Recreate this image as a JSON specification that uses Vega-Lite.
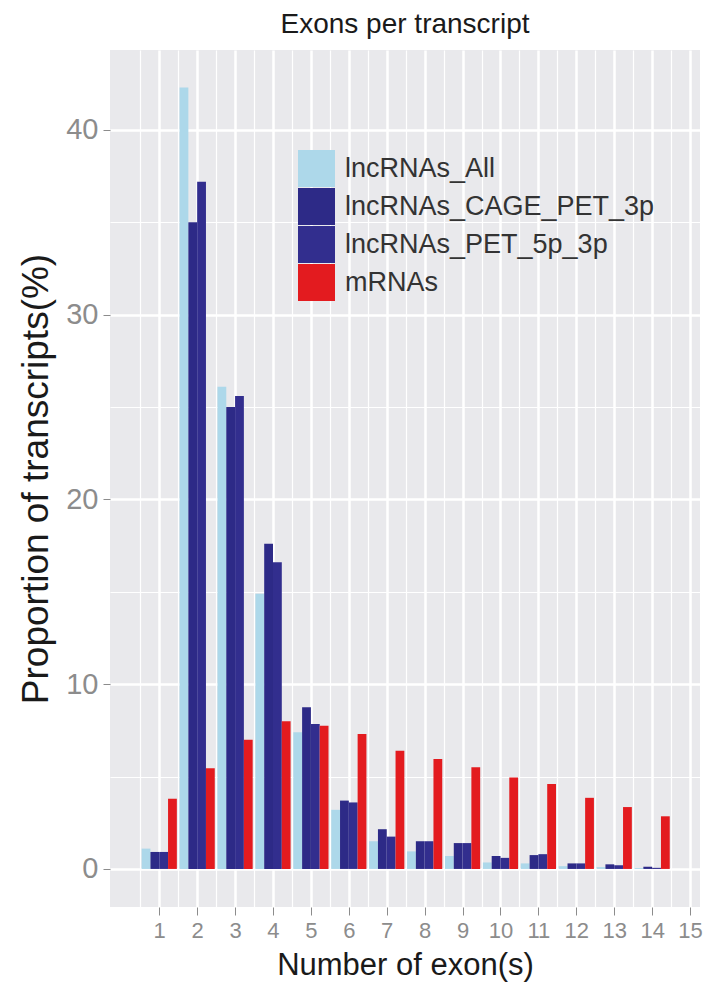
{
  "$schema": "https://vega.github.io/schema/vega-lite/v6.json",
  "width": 590,
  "height": 857,
  "autosize": "none",
  "padding": {"left": 110, "top": 50, "right": 18, "bottom": 82},
  "background": "white",
  "config": {
    "font": "Liberation Sans",
    "view": {"fill": "#e9e9ec", "stroke": null},
    "axis": {"domain": false, "gridColor": "white", "labelFont": "Liberation Sans", "titleFont": "Liberation Sans", "titleFontWeight": "normal"}
  },
  "title": {"text": "Exons per transcript", "fontSize": 28, "fontWeight": "normal", "color": "#1a1a1a", "anchor": "middle", "offset": 11},
  "data": {"values": [
    {"exons": 1, "series": "lncRNAs_All", "pct": 1.1},
    {"exons": 1, "series": "lncRNAs_CAGE_PET_3p", "pct": 0.92},
    {"exons": 1, "series": "lncRNAs_PET_5p_3p", "pct": 0.92},
    {"exons": 1, "series": "mRNAs", "pct": 3.8},
    {"exons": 2, "series": "lncRNAs_All", "pct": 42.3},
    {"exons": 2, "series": "lncRNAs_CAGE_PET_3p", "pct": 35.0},
    {"exons": 2, "series": "lncRNAs_PET_5p_3p", "pct": 37.2},
    {"exons": 2, "series": "mRNAs", "pct": 5.45},
    {"exons": 3, "series": "lncRNAs_All", "pct": 26.1},
    {"exons": 3, "series": "lncRNAs_CAGE_PET_3p", "pct": 25.0},
    {"exons": 3, "series": "lncRNAs_PET_5p_3p", "pct": 25.6},
    {"exons": 3, "series": "mRNAs", "pct": 7.0},
    {"exons": 4, "series": "lncRNAs_All", "pct": 14.9},
    {"exons": 4, "series": "lncRNAs_CAGE_PET_3p", "pct": 17.6},
    {"exons": 4, "series": "lncRNAs_PET_5p_3p", "pct": 16.6},
    {"exons": 4, "series": "mRNAs", "pct": 8.0},
    {"exons": 5, "series": "lncRNAs_All", "pct": 7.4},
    {"exons": 5, "series": "lncRNAs_CAGE_PET_3p", "pct": 8.75},
    {"exons": 5, "series": "lncRNAs_PET_5p_3p", "pct": 7.85},
    {"exons": 5, "series": "mRNAs", "pct": 7.75},
    {"exons": 6, "series": "lncRNAs_All", "pct": 3.2},
    {"exons": 6, "series": "lncRNAs_CAGE_PET_3p", "pct": 3.7},
    {"exons": 6, "series": "lncRNAs_PET_5p_3p", "pct": 3.6},
    {"exons": 6, "series": "mRNAs", "pct": 7.3},
    {"exons": 7, "series": "lncRNAs_All", "pct": 1.5},
    {"exons": 7, "series": "lncRNAs_CAGE_PET_3p", "pct": 2.15},
    {"exons": 7, "series": "lncRNAs_PET_5p_3p", "pct": 1.75},
    {"exons": 7, "series": "mRNAs", "pct": 6.4},
    {"exons": 8, "series": "lncRNAs_All", "pct": 0.95},
    {"exons": 8, "series": "lncRNAs_CAGE_PET_3p", "pct": 1.5},
    {"exons": 8, "series": "lncRNAs_PET_5p_3p", "pct": 1.5},
    {"exons": 8, "series": "mRNAs", "pct": 5.95},
    {"exons": 9, "series": "lncRNAs_All", "pct": 0.7},
    {"exons": 9, "series": "lncRNAs_CAGE_PET_3p", "pct": 1.4},
    {"exons": 9, "series": "lncRNAs_PET_5p_3p", "pct": 1.4},
    {"exons": 9, "series": "mRNAs", "pct": 5.5},
    {"exons": 10, "series": "lncRNAs_All", "pct": 0.35},
    {"exons": 10, "series": "lncRNAs_CAGE_PET_3p", "pct": 0.7},
    {"exons": 10, "series": "lncRNAs_PET_5p_3p", "pct": 0.6},
    {"exons": 10, "series": "mRNAs", "pct": 4.95},
    {"exons": 11, "series": "lncRNAs_All", "pct": 0.3},
    {"exons": 11, "series": "lncRNAs_CAGE_PET_3p", "pct": 0.75},
    {"exons": 11, "series": "lncRNAs_PET_5p_3p", "pct": 0.8},
    {"exons": 11, "series": "mRNAs", "pct": 4.6},
    {"exons": 12, "series": "lncRNAs_All", "pct": 0.15},
    {"exons": 12, "series": "lncRNAs_CAGE_PET_3p", "pct": 0.3},
    {"exons": 12, "series": "lncRNAs_PET_5p_3p", "pct": 0.3},
    {"exons": 12, "series": "mRNAs", "pct": 3.85},
    {"exons": 13, "series": "lncRNAs_All", "pct": 0.1},
    {"exons": 13, "series": "lncRNAs_CAGE_PET_3p", "pct": 0.25},
    {"exons": 13, "series": "lncRNAs_PET_5p_3p", "pct": 0.2},
    {"exons": 13, "series": "mRNAs", "pct": 3.35},
    {"exons": 14, "series": "lncRNAs_All", "pct": 0.05},
    {"exons": 14, "series": "lncRNAs_CAGE_PET_3p", "pct": 0.12},
    {"exons": 14, "series": "lncRNAs_PET_5p_3p", "pct": 0.06},
    {"exons": 14, "series": "mRNAs", "pct": 2.85}
  ]},
  "layer": [
    {
      "transform": [{"filter": "datum.series === 'lncRNAs_All'"}],
      "mark": {"type": "bar", "width": 8.8, "xOffset": -13.2},
      "encoding": {
        "x": {"field": "exons", "type": "quantitative", "scale": {"domain": [-0.167, 15.13], "nice": false, "zero": false},
              "axis": {"values": [0.5,1.5,2.5,3.5,4.5,5.5,6.5,7.5,8.5,9.5,10.5,11.5,12.5,13.5,14.5], "orient": "bottom", "labels": false, "ticks": false, "title": null, "grid": true, "gridWidth": 1.2}},
        "y": {"field": "pct", "type": "quantitative", "scale": {"domain": [-2.06, 44.33], "nice": false, "zero": false},
              "axis": {"values": [5, 15, 25, 35], "orient": "left", "labels": false, "ticks": false, "title": null, "grid": true, "gridWidth": 1.2}},
        "color": {"field": "series", "type": "nominal",
          "scale": {"domain": ["lncRNAs_All", "lncRNAs_CAGE_PET_3p", "lncRNAs_PET_5p_3p", "mRNAs"], "range": ["#add8ea", "#2d2a87", "#322e8e", "#e31b1f"]},
          "legend": {"title": null, "orient": "none", "legendX": 188, "legendY": 100, "padding": 0, "symbolType": "square", "symbolSize": 1369, "symbolStrokeWidth": 0, "symbolOpacity": 1, "rowPadding": 1, "labelFontSize": 27, "labelColor": "#333333", "labelOffset": 10, "labelLimit": 0, "labelFont": "Liberation Sans"}}
      }
    },
    {
      "transform": [{"filter": "datum.series === 'lncRNAs_CAGE_PET_3p'"}],
      "mark": {"type": "bar", "width": 8.8, "xOffset": -4.4},
      "encoding": {
        "x": {"field": "exons", "type": "quantitative", "scale": {"domain": [-0.167, 15.13], "nice": false, "zero": false},
              "axis": {"values": [1,2,3,4,5,6,7,8,9,10,11,12,13,14,15], "orient": "bottom", "grid": true, "gridWidth": 2.5, "labelFontSize": 22, "labelColor": "#8c8c8c", "tickColor": "#8c8c8c", "tickSize": 8, "labelPadding": 5, "labelDx": 3, "title": "Number of exon(s)", "titleFontSize": 31, "titleColor": "#1a1a1a", "titlePadding": 9}},
        "y": {"field": "pct", "type": "quantitative", "scale": {"domain": [-2.06, 44.33], "nice": false, "zero": false},
              "axis": {"values": [0, 10, 20, 30, 40], "orient": "left", "grid": true, "gridWidth": 2.5, "labelFontSize": 29, "labelColor": "#8c8c8c", "tickColor": "#8c8c8c", "tickSize": 7, "labelPadding": 5, "title": "Proportion of transcripts(%)", "titleFontSize": 37, "titleColor": "#1a1a1a", "titlePadding": 10}},
        "color": {"field": "series", "type": "nominal"}
      }
    },
    {
      "transform": [{"filter": "datum.series === 'lncRNAs_PET_5p_3p'"}],
      "mark": {"type": "bar", "width": 8.8, "xOffset": 4.4},
      "encoding": {
        "x": {"field": "exons", "type": "quantitative", "axis": null},
        "y": {"field": "pct", "type": "quantitative", "axis": null},
        "color": {"field": "series", "type": "nominal"}
      }
    },
    {
      "transform": [{"filter": "datum.series === 'mRNAs'"}],
      "mark": {"type": "bar", "width": 8.8, "xOffset": 13.2},
      "encoding": {
        "x": {"field": "exons", "type": "quantitative", "axis": null},
        "y": {"field": "pct", "type": "quantitative", "axis": null},
        "color": {"field": "series", "type": "nominal"}
      }
    }
  ],
  "resolve": {"axis": {"x": "independent", "y": "independent"}}
}
